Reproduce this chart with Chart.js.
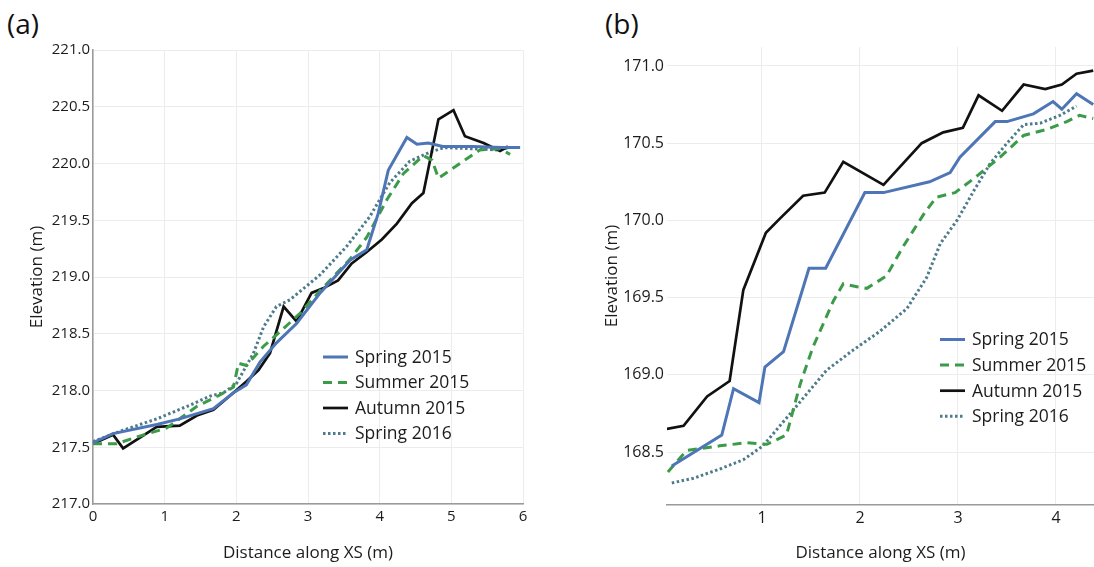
<!DOCTYPE html>
<html>
<head>
<meta charset="utf-8">
<script src="https://cdn.jsdelivr.net/npm/chart.js@4/dist/chart.umd.min.js"></script>
<style>
  html, body { margin: 0; padding: 0; background: #fff; width: 1094px; height: 567px; overflow: hidden; font-family: 'Open Sans', sans-serif; }
  .panel { position: absolute; top: 0; height: 567px; }
  .tag { position: absolute; top: 6px; font-size: 28px; line-height: 34px; color: #111; }
</style>
</head>
<body>
<div class="tag" style="left:7px">(a)</div>
<div class="tag" style="left:605px">(b)</div>
<div class="panel" style="left:0;width:545px"><canvas id="chartA" width="545" height="567"></canvas></div>
<div class="panel" style="left:560px;width:534px"><canvas id="chartB" width="534" height="567"></canvas></div>

<script>
// Survey names, in legend order
const surveyNames = ['Spring 2015', 'Summer 2015', 'Autumn 2015', 'Spring 2016'];

// ---- Cross-section (a): distance along XS (m) and elevation (m) ----
const aSpring15X = [0, 0.28, 0.89, 1.21, 1.68, 1.96, 2.14, 2.33, 2.56, 2.84, 3.17, 3.59, 3.82, 3.98, 4.12, 4.38, 4.52, 4.68, 4.88, 5.3, 5.7, 5.96];
const aSpring15Y = [217.54, 217.62, 217.70, 217.75, 217.84, 217.98, 218.05, 218.25, 218.42, 218.59, 218.86, 219.15, 219.24, 219.56, 219.94, 220.23, 220.17, 220.18, 220.15, 220.15, 220.14, 220.14];

const aSummer15X = [0, 0.33, 0.56, 1.03, 1.45, 1.77, 1.96, 2.03, 2.14, 2.38, 2.56, 2.89, 3.17, 3.59, 3.82, 4.10, 4.33, 4.61, 4.73, 4.82, 5.12, 5.40, 5.68, 5.82];
const aSummer15Y = [217.53, 217.53, 217.58, 217.67, 217.86, 217.96, 218.03, 218.24, 218.22, 218.39, 218.49, 218.68, 218.88, 219.16, 219.35, 219.68, 219.91, 220.07, 220.03, 219.87, 220.00, 220.12, 220.13, 220.08];

const aAutumn15X = [0, 0.28, 0.42, 0.89, 1.21, 1.45, 1.68, 1.96, 2.14, 2.31, 2.47, 2.66, 2.84, 3.05, 3.21, 3.42, 3.61, 3.82, 4.03, 4.24, 4.45, 4.61, 4.82, 5.03, 5.19, 5.45, 5.68, 5.79];
const aAutumn15Y = [217.53, 217.61, 217.49, 217.68, 217.69, 217.78, 217.83, 217.98, 218.08, 218.18, 218.33, 218.74, 218.61, 218.86, 218.90, 218.97, 219.12, 219.22, 219.33, 219.47, 219.65, 219.74, 220.39, 220.47, 220.24, 220.18, 220.11, 220.15];

const aSpring16X = [0, 0.42, 0.89, 1.35, 1.63, 1.82, 2.0, 2.24, 2.38, 2.56, 2.75, 3.17, 3.54, 3.86, 4.14, 4.42, 4.70, 4.90, 5.3, 5.63, 5.82];
const aSpring16Y = [217.55, 217.65, 217.75, 217.87, 217.95, 217.98, 218.06, 218.33, 218.56, 218.74, 218.80, 219.02, 219.27, 219.53, 219.83, 220.02, 220.10, 220.14, 220.13, 220.12, 220.14];

const aTicksX = [0, 1, 2, 3, 4, 5, 6];
const aTicksY = [217.0, 217.5, 218.0, 218.5, 219.0, 219.5, 220.0, 220.5, 221.0];

// ---- Cross-section (b) ----
const bSpring15X = [0.08, 0.59, 0.71, 0.97, 1.03, 1.22, 1.48, 1.65, 2.05, 2.24, 2.71, 2.92, 3.02, 3.38, 3.50, 3.77, 3.97, 4.06, 4.21, 4.38];
const bSpring15Y = [168.41, 168.61, 168.91, 168.82, 169.05, 169.15, 169.69, 169.69, 170.18, 170.18, 170.25, 170.31, 170.41, 170.64, 170.64, 170.69, 170.77, 170.72, 170.82, 170.75];

const bSummer15X = [0.04, 0.23, 0.57, 0.84, 1.05, 1.25, 1.39, 1.52, 1.73, 1.83, 1.97, 2.07, 2.27, 2.44, 2.66, 2.78, 2.97, 3.16, 3.43, 3.67, 3.91, 4.11, 4.24, 4.38];
const bSummer15Y = [168.37, 168.51, 168.54, 168.56, 168.55, 168.61, 168.94, 169.18, 169.48, 169.59, 169.57, 169.56, 169.64, 169.83, 170.05, 170.15, 170.18, 170.27, 170.41, 170.55, 170.59, 170.64, 170.68, 170.66];

const bAutumn15X = [0.03, 0.20, 0.44, 0.67, 0.81, 1.04, 1.18, 1.42, 1.64, 1.83, 2.24, 2.63, 2.85, 3.05, 3.21, 3.45, 3.67, 3.89, 4.06, 4.21, 4.38];
const bAutumn15Y = [168.65, 168.67, 168.86, 168.96, 169.55, 169.92, 170.01, 170.16, 170.18, 170.38, 170.23, 170.50, 170.57, 170.60, 170.81, 170.71, 170.88, 170.85, 170.88, 170.95, 170.97];

const bSpring16X = [0.08, 0.30, 0.57, 0.81, 1.01, 1.29, 1.66, 1.93, 2.20, 2.48, 2.68, 2.82, 2.99, 3.16, 3.33, 3.50, 3.67, 3.84, 4.04, 4.21];
const bSpring16Y = [168.30, 168.33, 168.39, 168.45, 168.54, 168.75, 169.03, 169.16, 169.28, 169.43, 169.63, 169.85, 170.00, 170.19, 170.37, 170.50, 170.62, 170.63, 170.68, 170.74];

const bTicksX = [1, 2, 3, 4];
const bTicksY = [168.5, 169.0, 169.5, 170.0, 170.5, 171.0];

// Line styles per survey
const lineStyles = [
  { color: '#4e75b5', dash: [],         width: 3 },
  { color: '#3b9b48', dash: [9, 6],     width: 3 },
  { color: '#111111', dash: [],         width: 2.7 },
  { color: '#4d7b8c', dash: [2.5, 2.5], width: 3 }
];

const FONT = "'Open Sans', sans-serif";
const TEXT = '#1c1c1c';
const GRID = '#ececec';

function toPoints(xs, ys) { return xs.map((x, i) => ({ x: x, y: ys[i] })); }

function makeDatasets(pairs) {
  return pairs.map((p, i) => ({
    label: surveyNames[i],
    data: toPoints(p[0], p[1]),
    borderColor: lineStyles[i].color,
    backgroundColor: lineStyles[i].color,
    borderWidth: lineStyles[i].width,
    borderDash: lineStyles[i].dash,
    borderCapStyle: 'butt',
    borderJoinStyle: 'miter',
    pointRadius: 0,
    tension: 0,
    fill: false
  }));
}

// Key drawn inside the plot: a short line sample followed by the survey name
const seriesKey = {
  id: 'seriesKey',
  afterDraw(chart, args, opts) {
    const ctx = chart.ctx;
    ctx.save();
    ctx.font = opts.fontSize + 'px ' + FONT;
    ctx.textBaseline = 'middle';
    ctx.textAlign = 'left';
    chart.data.datasets.forEach((ds, i) => {
      const y = opts.y + i * opts.gap;
      ctx.beginPath();
      ctx.strokeStyle = ds.borderColor;
      ctx.lineWidth = ds.borderWidth;
      ctx.setLineDash(ds.borderDash || []);
      ctx.moveTo(opts.x, y);
      ctx.lineTo(opts.x + opts.len, y);
      ctx.stroke();
      ctx.setLineDash([]);
      ctx.fillStyle = TEXT;
      ctx.fillText(ds.label, opts.x + opts.len + 7, y + 1);
    });
    ctx.restore();
  }
};

function buildChart(canvasId, cfg) {
  return new Chart(document.getElementById(canvasId), {
    type: 'line',
    data: { datasets: makeDatasets(cfg.pairs) },
    plugins: [seriesKey],
    options: {
      responsive: false,
      animation: false,
      layout: { padding: cfg.padding },
      plugins: {
        legend: { display: false },
        tooltip: { enabled: false },
        seriesKey: cfg.key
      },
      scales: {
        x: {
          type: 'linear',
          min: cfg.xMin, max: cfg.xMax,
          afterBuildTicks: s => { s.ticks = cfg.ticksX.map(v => ({ value: v })); },
          afterFit: s => { s.height = cfg.xAxisHeight; },
          ticks: { font: { family: FONT, size: cfg.tickSize }, color: TEXT, padding: 4, maxRotation: 0,
                   callback: v => String(v) },
          grid: { color: GRID, lineWidth: 1, drawTicks: false },
          border: { display: true, color: '#9a9a9a', width: 1.5 },
          title: { display: true, text: 'Distance along XS (m)', font: { family: FONT, size: 17 }, color: TEXT,
                   padding: { top: 0, bottom: 4 } }
        },
        y: {
          type: 'linear',
          min: cfg.yMin, max: cfg.yMax,
          afterBuildTicks: s => { s.ticks = cfg.ticksY.map(v => ({ value: v })); },
          afterFit: s => { s.width = cfg.yAxisWidth; },
          ticks: { font: { family: FONT, size: cfg.tickSize }, color: TEXT, padding: cfg.yTickPad,
                   callback: v => Number(v).toFixed(1) },
          grid: { color: GRID, lineWidth: 1, drawTicks: false },
          border: { display: cfg.yBorder, color: '#9a9a9a', width: 1.5 },
          title: { display: true, text: 'Elevation (m)', font: { family: FONT, size: 17 }, color: TEXT,
                   padding: { top: cfg.yTitlePad, bottom: 0 } }
        }
      }
    }
  });
}

buildChart('chartA', {
  pairs: [[aSpring15X, aSpring15Y], [aSummer15X, aSummer15Y], [aAutumn15X, aAutumn15Y], [aSpring16X, aSpring16Y]],
  xMin: 0, xMax: 6, yMin: 217, yMax: 221,
  ticksX: aTicksX, ticksY: aTicksY,
  padding: { top: 50, right: 22, bottom: 0, left: 0 },
  xAxisHeight: 63, yAxisWidth: 93, yTickPad: 3, yTitlePad: 27,
  tickSize: 15, yBorder: true,
  key: { x: 323, y: 357, gap: 25.5, len: 25, fontSize: 17.5 }
});

buildChart('chartB', {
  pairs: [[bSpring15X, bSpring15Y], [bSummer15X, bSummer15Y], [bAutumn15X, bAutumn15Y], [bSpring16X, bSpring16Y]],
  xMin: 0.031, xMax: 4.388, yMin: 168.157, yMax: 171.123,
  ticksX: bTicksX, ticksY: bTicksY,
  padding: { top: 47, right: 0, bottom: 0, left: 0 },
  xAxisHeight: 62, yAxisWidth: 107, yTickPad: 3, yTitlePad: 42,
  tickSize: 16, yBorder: false,
  key: { x: 380, y: 339.5, gap: 25.6, len: 25, fontSize: 17.5 }
});
</script>
</body>
</html>
